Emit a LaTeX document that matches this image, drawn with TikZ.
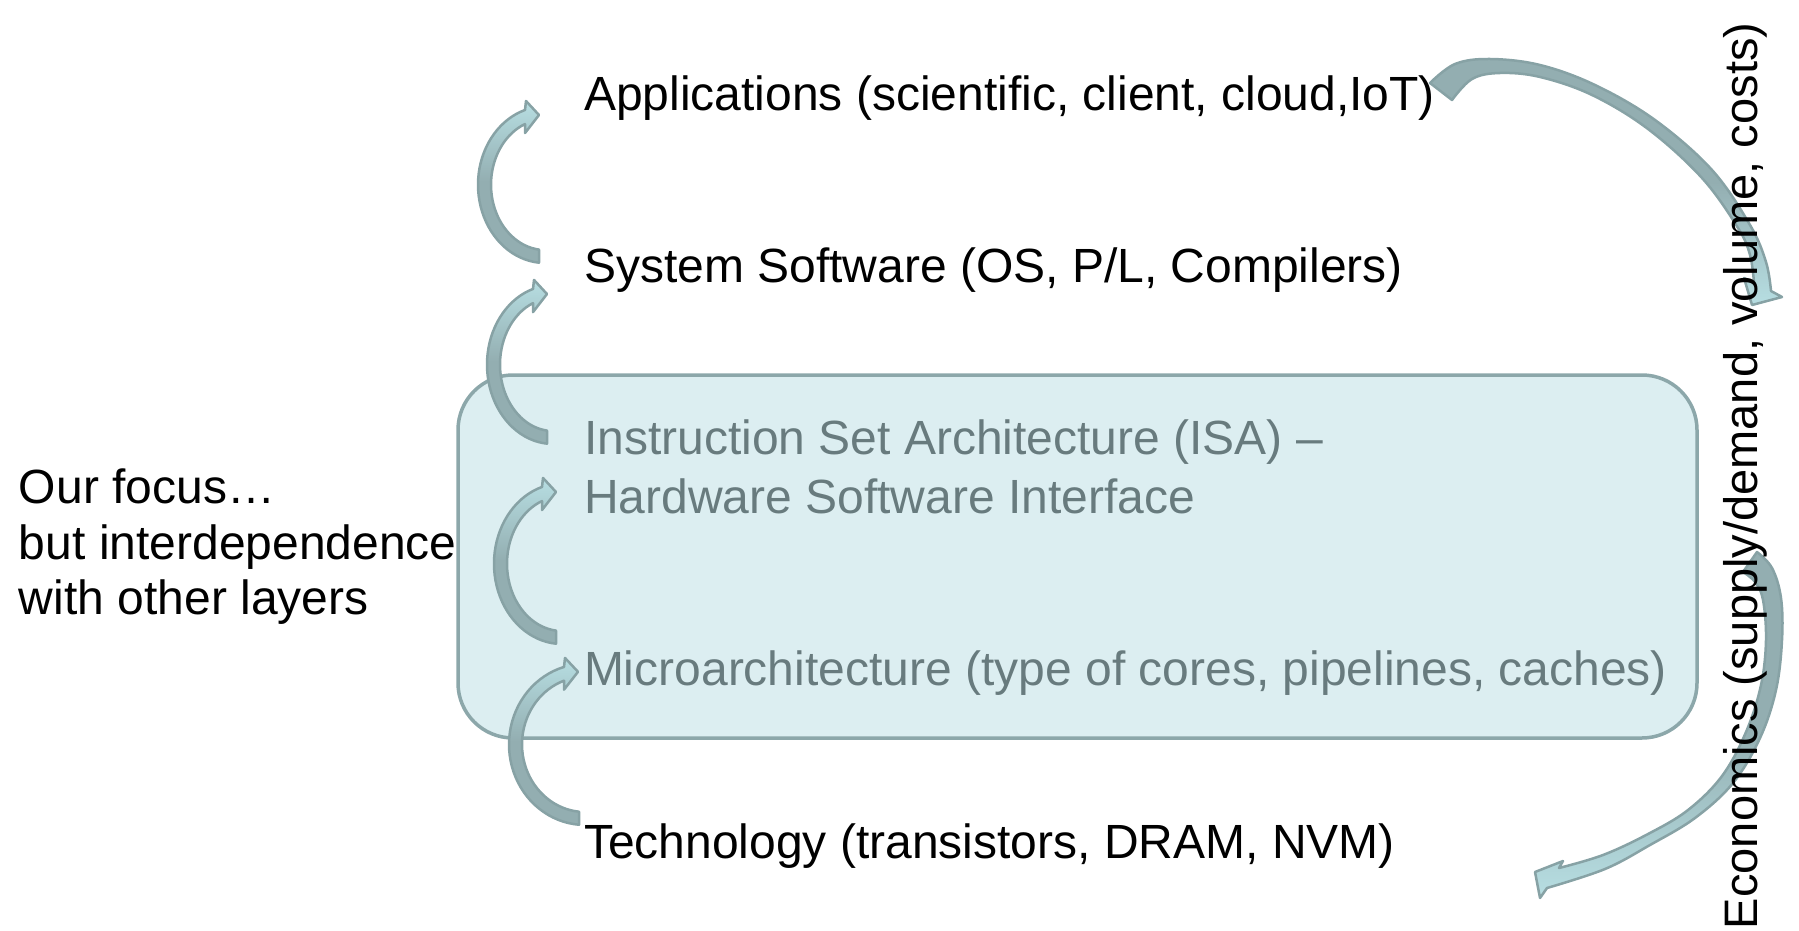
\documentclass[tikz,border=0pt]{standalone}
\usepackage{fontspec}
\setmainfont{Liberation Sans}
\definecolor{boxfill}{HTML}{DCEEF1}
\definecolor{boxline}{HTML}{8CA7AA}
\definecolor{boxtext}{HTML}{687B7E}
\definecolor{arrowline}{HTML}{87A2A5}
\definecolor{arrowgray}{HTML}{93AEB1}
\definecolor{arrowlight}{HTML}{B7DEE2}

% Curved block arrow bending to the left: #1,#2 centre, #3,#4 outer radii,
% #5 x of the tail, #6 x of the head base
\newcommand{\bendarrow}[6]{%
  \pgfmathsetmacro{\arwAa}{acos((#5-#1)/#3)}%
  \pgfmathsetmacro{\arwAb}{360-acos((#6-#1)/#3)}%
  \pgfmathsetmacro{\arwIx}{#3-13}%
  \pgfmathsetmacro{\arwIy}{#4-13}%
  \pgfmathsetmacro{\arwBa}{acos((#5-#1)/\arwIx)}%
  \pgfmathsetmacro{\arwBb}{360-acos((#6-#1)/\arwIx)}%
  \pgfmathsetmacro{\arwPy}{#2+#4*sin(\arwAb)}%
  \pgfmathsetmacro{\arwQy}{#2+\arwIy*sin(\arwBb)}%
  \pgfmathsetmacro{\arwTy}{(\arwPy+\arwQy)/2-2}%
  \path[bendfill]
    plot[domain=\arwAa:\arwAb, samples=40] ({#1+#3*cos(\x)},{#2+#4*sin(\x)})
    -- (#6+1,\arwPy-9) -- (#6+14,\arwTy) -- (#6,\arwQy+9) -- (#6,\arwQy)
    -- plot[domain=\arwBb:\arwBa, samples=40] ({#1+\arwIx*cos(\x)},{#2+\arwIy*sin(\x)})
    -- cycle;
}

\begin{document}
\begin{tikzpicture}[x=1pt,y=-1pt,
  every node/.style={inner sep=0pt, outer sep=0pt, font=\fontsize{48}{56}\selectfont},
  layer/.style={anchor=base west, text=black},
  inlayer/.style={anchor=base west, text=boxtext},
  focusbox/.style={draw=boxline, line width=3.5pt, fill=boxfill, rounded corners=55pt},
  bendfill/.style={draw=arrowline, line width=2.5pt, line join=round,
    top color=arrowlight, bottom color=arrowgray, middle color=arrowgray},
  bigfill/.style={draw=arrowline, line width=2.5pt, line join=round,
    top color=arrowgray, bottom color=arrowlight, middle color=arrowgray}]
\useasboundingbox (0,0) rectangle (1799,931);

% highlighted ISA / microarchitecture region
\path[focusbox] (458,375) rectangle (1697,738);

% layer-to-layer bent arrows
\bendarrow{545}{184.7}{67}{78.3}{539}{525}
\bendarrow{553}{364.6}{66}{79.4}{547}{533}
\bendarrow{562}{563.7}{68}{80.3}{556}{542}
\bendarrow{585}{744.4}{76}{80.6}{579}{564}

% economics arrow from applications down the right side
\path[bigfill]
  plot[smooth, tension=0.6] coordinates {(1430,83) (1455,64) (1490,59) (1540,65)
    (1595,85) (1655,120) (1712,170) (1750,225) (1766,262) (1771,291)}
  -- (1782,297) -- (1752,305) -- (1744,278)
  -- plot[smooth, tension=0.6] coordinates {(1754,283) (1750,255) (1738,228)
    (1702,178) (1648,129) (1592,95) (1540,77) (1500,73) (1472,79) (1452,100)}
  -- cycle;

% economics arrow back towards technology
\path[bigfill]
  plot[smooth, tension=0.6] coordinates {(1757,552) (1772,568) (1781,598) (1782,640)
    (1776,690) (1760,738) (1733,783) (1695,818) (1650,845) (1605,869) (1547,888)}
  -- (1540,898) -- (1535,872) -- (1563,861)
  -- plot[smooth, tension=0.6] coordinates {(1559,868) (1603,855) (1648,834)
    (1688,810) (1722,776) (1746,732) (1761,685) (1766,640) (1763,600) (1755,582) (1743,572)}
  -- cycle;

% layers
\node[layer] (app) at (584,111) {Applications (scientific, client, cloud,IoT)};
\node[layer] (sys) at (584,282) {System Software (OS, P/L, Compilers)};
\node[inlayer] (isa) at (584,454) {Instruction Set Architecture (ISA) –};
\node[inlayer] (hsi) at (584,513) {Hardware Software Interface};
\node[inlayer] (uarch) at (584,685) {Microarchitecture (type of cores, pipelines, caches)};
\node[layer] (tech) at (584,858) {Technology (transistors, DRAM, NVM)};

% side notes
\node[layer] (focus1) at (19,503) {Our focus…};
\node[layer] (focus2) at (19,559) {but interdependence};
\node[layer] (focus3) at (19,614) {with other layers};
\node[rotate=90, anchor=base west, font=\fontsize{47}{56}\selectfont] (econ) at (1757,929)
  {Economics (supply/demand, volume, costs)};
\end{tikzpicture}
\end{document}
